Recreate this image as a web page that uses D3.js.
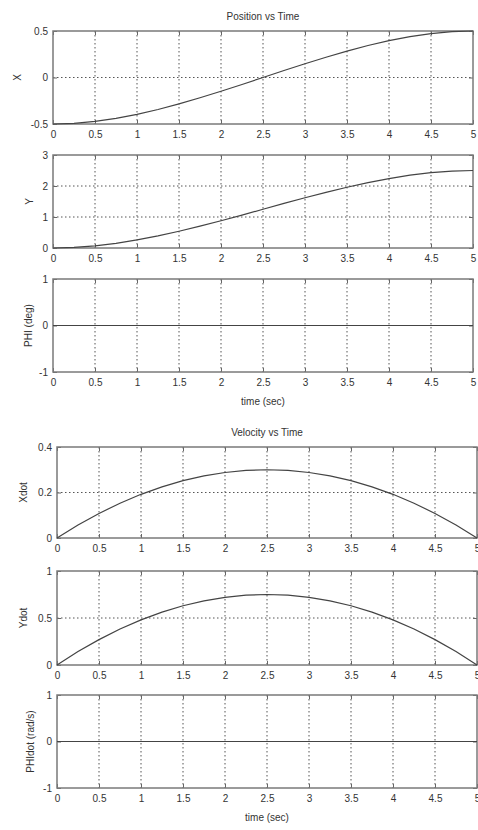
<!DOCTYPE html>
<html lang="en">
<head>
<meta charset="UTF-8">
<title>Position and Velocity vs Time</title>
<style>
  body { margin: 0; background: #fff; }
  svg text { font-family: "Liberation Sans", Arial, sans-serif; fill: #333; }
</style>
</head>
<body>
<script src="https://d3js.org/d3.v7.min.js"></script>
<script>
// time samples (sec)
const time = [0, 0.25, 0.5, 0.75, 1, 1.25, 1.5, 1.75, 2, 2.25, 2.5,
              2.75, 3, 3.25, 3.5, 3.75, 4, 4.25, 4.5, 4.75, 5];

// position
const posX = [-0.5, -0.493, -0.472, -0.439, -0.396, -0.344, -0.284, -0.218, -0.148, -0.075, 0,
              0.075, 0.148, 0.218, 0.284, 0.344, 0.396, 0.439, 0.472, 0.493, 0.5];
const posY = [0, 0.018, 0.07, 0.152, 0.26, 0.39, 0.54, 0.705, 0.88, 1.06, 1.25,
              1.44, 1.62, 1.795, 1.96, 2.11, 2.24, 2.35, 2.43, 2.48, 2.5];
const phi = [0, 0, 0, 0, 0, 0, 0, 0, 0, 0, 0, 0, 0, 0, 0, 0, 0, 0, 0, 0, 0];

// velocity
const velX = [0, 0.057, 0.108, 0.153, 0.192, 0.225, 0.252, 0.273, 0.288, 0.297, 0.3,
              0.297, 0.288, 0.273, 0.252, 0.225, 0.192, 0.153, 0.108, 0.057, 0];
const velY = [0, 0.143, 0.27, 0.383, 0.48, 0.563, 0.63, 0.683, 0.72, 0.743, 0.75,
              0.743, 0.72, 0.683, 0.63, 0.563, 0.48, 0.383, 0.27, 0.143, 0];
const phiDot = [0, 0, 0, 0, 0, 0, 0, 0, 0, 0, 0, 0, 0, 0, 0, 0, 0, 0, 0, 0, 0];

// ticks
const timeTicks = [0, 0.5, 1, 1.5, 2, 2.5, 3, 3.5, 4, 4.5, 5];
const posXTicks = [-0.5, 0, 0.5];
const posYTicks = [0, 1, 2, 3];
const phiTicks = [-1, 0, 1];
const velXTicks = [0, 0.2, 0.4];
const velYTicks = [0, 0.5, 1];
const phiDotTicks = [-1, 0, 1];

const width = 478, height = 830;

const panels = [
  {values: posX, ticks: posXTicks, label: "X", left: 53, right: 473, top: 31, bottom: 124, labelX: 17, title: "Position vs Time"},
  {values: posY, ticks: posYTicks, label: "Y", left: 53, right: 473, top: 155, bottom: 248, labelX: 29},
  {values: phi, ticks: phiTicks, label: "PHI (deg)", left: 53, right: 473, top: 279, bottom: 372, labelX: 28, xlabel: "time (sec)"},
  {values: velX, ticks: velXTicks, label: "Xdot", left: 57, right: 477, top: 447, bottom: 538, labelX: 23, title: "Velocity vs Time"},
  {values: velY, ticks: velYTicks, label: "Ydot", left: 57, right: 477, top: 571, bottom: 665, labelX: 23},
  {values: phiDot, ticks: phiDotTicks, label: "PHIdot (rad/s)", left: 57, right: 477, top: 695, bottom: 788, labelX: 30, xlabel: "time (sec)"}
];

const svg = d3.create("svg")
  .attr("width", width)
  .attr("height", height)
  .attr("viewBox", [0, 0, width, height]);

const fmt = d => String(d);

panels.forEach(p => {
  const x = d3.scaleLinear().domain([0, 5]).range([p.left, p.right]);
  const y = d3.scaleLinear().domain(d3.extent(p.ticks)).range([p.bottom, p.top]);
  const g = svg.append("g");

  // dotted grid
  g.append("g").selectAll("line.v")
    .data(timeTicks.slice(1, -1))
    .join("line")
      .attr("x1", d => x(d)).attr("x2", d => x(d))
      .attr("y1", p.top).attr("y2", p.bottom)
      .attr("stroke", "#555").attr("stroke-width", 1)
      .attr("stroke-dasharray", "1.5,2.5");
  g.append("g").selectAll("line.h")
    .data(p.ticks.slice(1, -1))
    .join("line")
      .attr("x1", p.left).attr("x2", p.right)
      .attr("y1", d => y(d)).attr("y2", d => y(d))
      .attr("stroke", "#555").attr("stroke-width", 1)
      .attr("stroke-dasharray", "1.5,2.5");

  // axes
  const bottomAxis = g.append("g")
    .attr("transform", `translate(0,${p.bottom})`)
    .call(d3.axisBottom(x).tickValues(timeTicks).tickFormat(fmt).tickSizeInner(-4).tickSizeOuter(0).tickPadding(7));
  const leftAxis = g.append("g")
    .attr("transform", `translate(${p.left},0)`)
    .call(d3.axisLeft(y).tickValues(p.ticks).tickFormat(fmt).tickSizeInner(-4).tickSizeOuter(0).tickPadding(5));
  g.append("g")
    .attr("transform", `translate(0,${p.top})`)
    .call(d3.axisTop(x).tickValues(timeTicks).tickFormat("").tickSizeInner(-4).tickSizeOuter(0));
  g.append("g")
    .attr("transform", `translate(${p.right},0)`)
    .call(d3.axisRight(y).tickValues(p.ticks).tickFormat("").tickSizeInner(-4).tickSizeOuter(0));

  g.selectAll(".domain").remove();
  g.selectAll(".tick line").attr("stroke", "#666");
  g.selectAll(".tick text").attr("font-size", 10).attr("fill", "#333");

  // frame
  g.append("rect")
    .attr("x", p.left).attr("y", p.top)
    .attr("width", p.right - p.left).attr("height", p.bottom - p.top)
    .attr("fill", "none").attr("stroke", "#7a7a7a").attr("stroke-width", 1.5);

  // curve
  const line = d3.line()
    .x((d, i) => x(time[i]))
    .y(d => y(d));
  g.append("path")
    .datum(p.values)
    .attr("fill", "none")
    .attr("stroke", "#444")
    .attr("stroke-width", 1.2)
    .attr("d", line);

  // labels
  g.append("text")
    .attr("transform", `translate(${p.labelX + 3.5},${(p.top + p.bottom) / 2}) rotate(-90)`)
    .attr("text-anchor", "middle")
    .attr("font-size", 10)
    .text(p.label);

  if (p.title) {
    g.append("text")
      .attr("x", (p.left + p.right) / 2)
      .attr("y", p.top - 11)
      .attr("text-anchor", "middle")
      .attr("font-size", 10)
      .text(p.title);
  }
  if (p.xlabel) {
    g.append("text")
      .attr("x", (p.left + p.right) / 2)
      .attr("y", p.bottom + 33)
      .attr("text-anchor", "middle")
      .attr("font-size", 10)
      .text(p.xlabel);
  }
});

document.querySelector("body").appendChild(svg.node());
</script>
</body>
</html>
